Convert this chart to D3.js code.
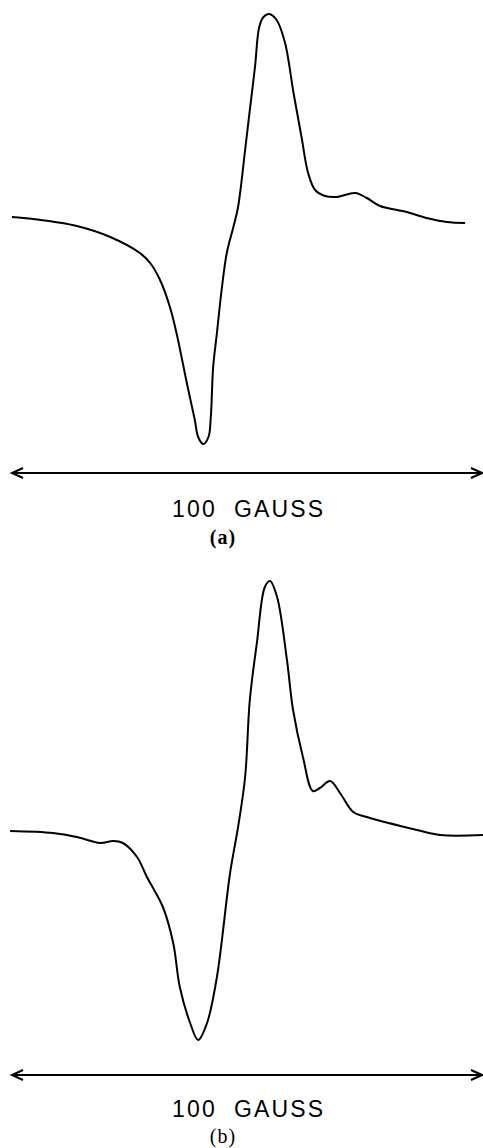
<!DOCTYPE html>
<html>
<head>
<meta charset="utf-8">
<script src="https://cdn.jsdelivr.net/npm/d3@7"></script>
<style>
  html, body { margin: 0; padding: 0; background: #fff; }
  svg { display: block; }
</style>
</head>
<body>
<div id="app"></div>
<script>
// field position in gauss (the arrow spans 100 G), intensity in arbitrary units
const fieldA = [0, 4.5, 13.8, 20.9, 27.2, 29.4, 31.5, 33.6, 35.0, 37.2, 38.9, 39.6, 40.7, 41.8, 42.3, 42.8, 43.6, 44.6, 45.7, 47.1, 48.1, 49.6, 50.6, 51.7, 52.6, 53.5, 54.7, 56.3, 58.1, 59.9, 61.6, 63.0, 64.5, 66.6, 69.1, 73.0, 75.5, 78.3, 84.0, 88.2, 92.5, 96.4]
const signalA = [3, 1, -6, -17, -33, -43, -60, -87, -113, -163, -200, -217, -224, -217, -197, -147, -113, -70, -33, -7, 13, 70, 110, 153, 193, 203, 206, 200, 177, 127, 83, 47, 30, 24, 23, 27, 22, 14, 8, 2, -2, -3]

const fieldB = [-0.4, 8.7, 13.8, 18.7, 21.5, 23.6, 26.6, 28.7, 32.1, 34.3, 35.7, 37.9, 39.6, 41.5, 43.6, 46.4, 48.1, 49.6, 50.6, 52.1, 53.8, 54.9, 56.4, 58.5, 59.8, 61.9, 64.0, 65.5, 67.7, 69.8, 72.6, 75.5, 86.2, 91.1, 100.2]
const signalB = [4, 2, -2, -8, -6, -8, -22, -42, -72, -108, -152, -188, -205, -188, -142, -38, 8, 58, 135, 192, 248, 254, 238, 175, 125, 78, 44, 47, 54, 42, 23, 18, 5, 0, 0]

const spanLabel = '100  GAUSS'
const panelLabels = ['(a)', '(b)']

const width = 483
const height = 1148

const svg = d3.select('#app')
  .append('svg')
  .attr('width', width)
  .attr('height', height)

const x = d3.scaleLinear().domain([0, 100]).range([12, 482])

const panels = [
  {field: fieldA, signal: signalA, y: d3.scaleLinear().domain([-224, 206]).range([444, 14]), axisY: 473, textY: 517, labelY: 544, label: panelLabels[0], bold: true},
  {field: fieldB, signal: signalB, y: d3.scaleLinear().domain([-206, 254]).range([1041, 581]), axisY: 1075, textY: 1117, labelY: 1143, label: panelLabels[1], bold: false}
]

panels.forEach(function (p) {
  const pts = p.field.map((f, i) => [f, p.signal[i]])

  const line = d3.line()
    .x(d => x(d[0]))
    .y(d => p.y(d[1]))
    .curve(d3.curveCatmullRom.alpha(0.5))

  svg.append('path')
    .datum(pts)
    .attr('fill', 'none')
    .attr('stroke', '#000')
    .attr('stroke-width', 2)
    .attr('stroke-linejoin', 'round')
    .attr('d', line)

  // double headed arrow for the 100 gauss span
  const g = svg.append('g')
    .attr('stroke', '#000')
    .attr('stroke-width', 2)
    .attr('fill', 'none')
  const x0 = x(0), x1 = x(100), ay = p.axisY
  g.append('line')
    .attr('x1', x0).attr('x2', x1)
    .attr('y1', ay).attr('y2', ay)
  g.append('path')
    .attr('d', `M${x0 + 11},${ay - 5}L${x0},${ay}L${x0 + 11},${ay + 5}`)
  g.append('path')
    .attr('d', `M${x1 - 11},${ay - 5}L${x1},${ay}L${x1 - 11},${ay + 5}`)

  svg.append('text')
    .attr('x', 172)
    .attr('y', p.textY)
    .attr('textLength', 151)
    .attr('lengthAdjust', 'spacing')
    .attr('xml:space', 'preserve')
    .style('font-family', 'Liberation Sans, Arial, sans-serif')
    .style('font-size', '23px')
    .style('white-space', 'pre')
    .text(spanLabel)

  svg.append('text')
    .attr('x', 223)
    .attr('y', p.labelY)
    .attr('text-anchor', 'middle')
    .style('font-family', 'Liberation Serif, Times New Roman, serif')
    .style('font-size', '20px')
    .style('font-weight', p.bold ? 'bold' : 'normal')
    .style('letter-spacing', '1px')
    .text(p.label)
})
</script>
</body>
</html>
